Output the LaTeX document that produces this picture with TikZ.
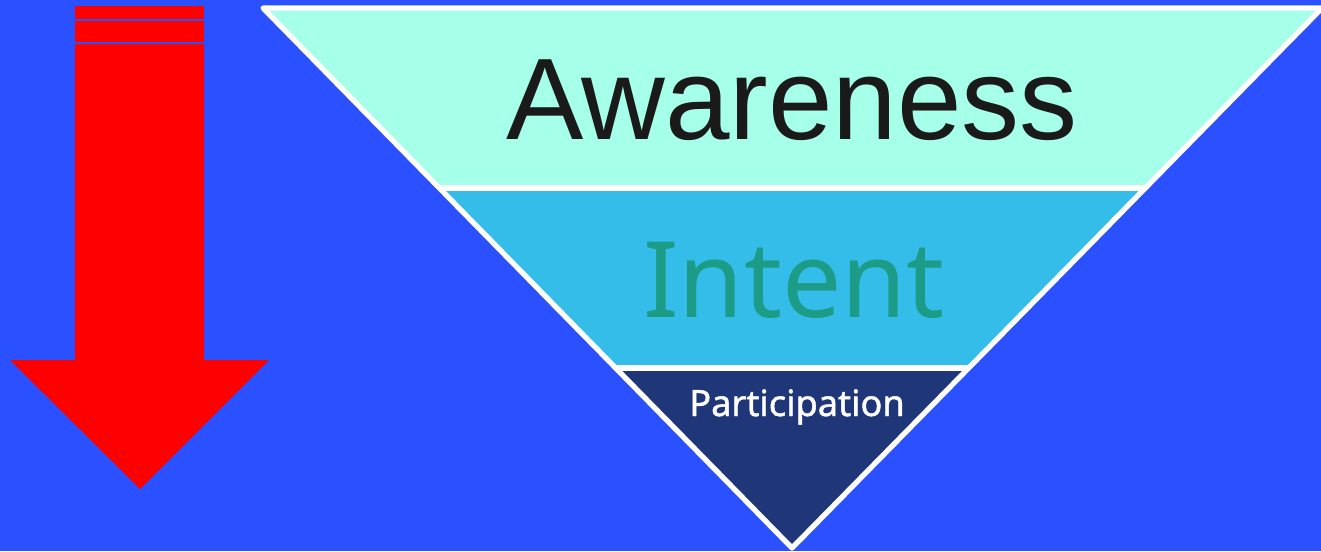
\documentclass[tikz,border=0pt]{standalone}
\usepackage{fontspec}
\setmainfont{Liberation Sans}
\newfontfamily\labelfont{Noto Sans}
\newfontfamily\smalllabelfont[FakeBold=1.2]{Noto Sans}
\usepackage{tikz}
\usetikzlibrary{positioning}

\definecolor{bgblue}{RGB}{42,80,255}
\definecolor{mint}{RGB}{166,255,232}
\definecolor{skycyan}{RGB}{51,189,232}
\definecolor{deepnavy}{RGB}{31,54,120}
\definecolor{tealtext}{RGB}{28,155,135}
\definecolor{inkblack}{RGB}{26,26,26}

\tikzset{
  funnelline/.style={draw=white, line width=3pt, line join=round},
  stagetext/.style={inner sep=0pt, anchor=base},
}

\begin{document}
\begin{tikzpicture}[x=0.02cm, y=-0.02cm]
      \fill[bgblue] (0,0) rectangle (1321,551);
      \useasboundingbox (0,0) rectangle (1321,551);
      % red arrow with its two caps
      \begin{scope}
        \fill[red] (75,6) rectangle (204,19);
        \fill[red] (75,21) rectangle (204,42);
        \fill[red] (75,44) -- (204,44) -- (204,360) -- (269,360) -- (140,489)
          -- (10,360) -- (75,360) -- cycle;
      \end{scope}
      % funnel bands
      \begin{scope}
        \coordinate (tl) at (263,8);
        \coordinate (tr) at (1322,8);
        \coordinate (ml) at (439.3,188);
        \coordinate (mr) at (1145.3,188);
        \coordinate (bl) at (615.7,368);
        \coordinate (br) at (968.7,368);
        \coordinate (tip) at (792,548);
        \fill[mint] (tl) -- (tr) -- (mr) -- (ml) -- cycle;
        \fill[skycyan] (ml) -- (mr) -- (br) -- (bl) -- cycle;
        \fill[deepnavy] (bl) -- (br) -- (tip) -- cycle;
        \draw[funnelline] (tl) -- (tr) -- (tip) -- cycle;
        \draw[funnelline] (ml) -- (mr);
        \draw[funnelline] (bl) -- (br);
        \node[stagetext, text=inkblack, font=\fontsize{66}{70}\selectfont] (awareness) at (792,139) {Awareness};
        \node[stagetext, text=tealtext, font=\labelfont\fontsize{60}{64}\selectfont] (intent) at (794,317) {Intent};
        \node[stagetext, text=white, font=\smalllabelfont\fontsize{20.6}{22}\selectfont] (participation) at (797,416) {Participation};
      \end{scope}
    \end{tikzpicture}
\end{document}
